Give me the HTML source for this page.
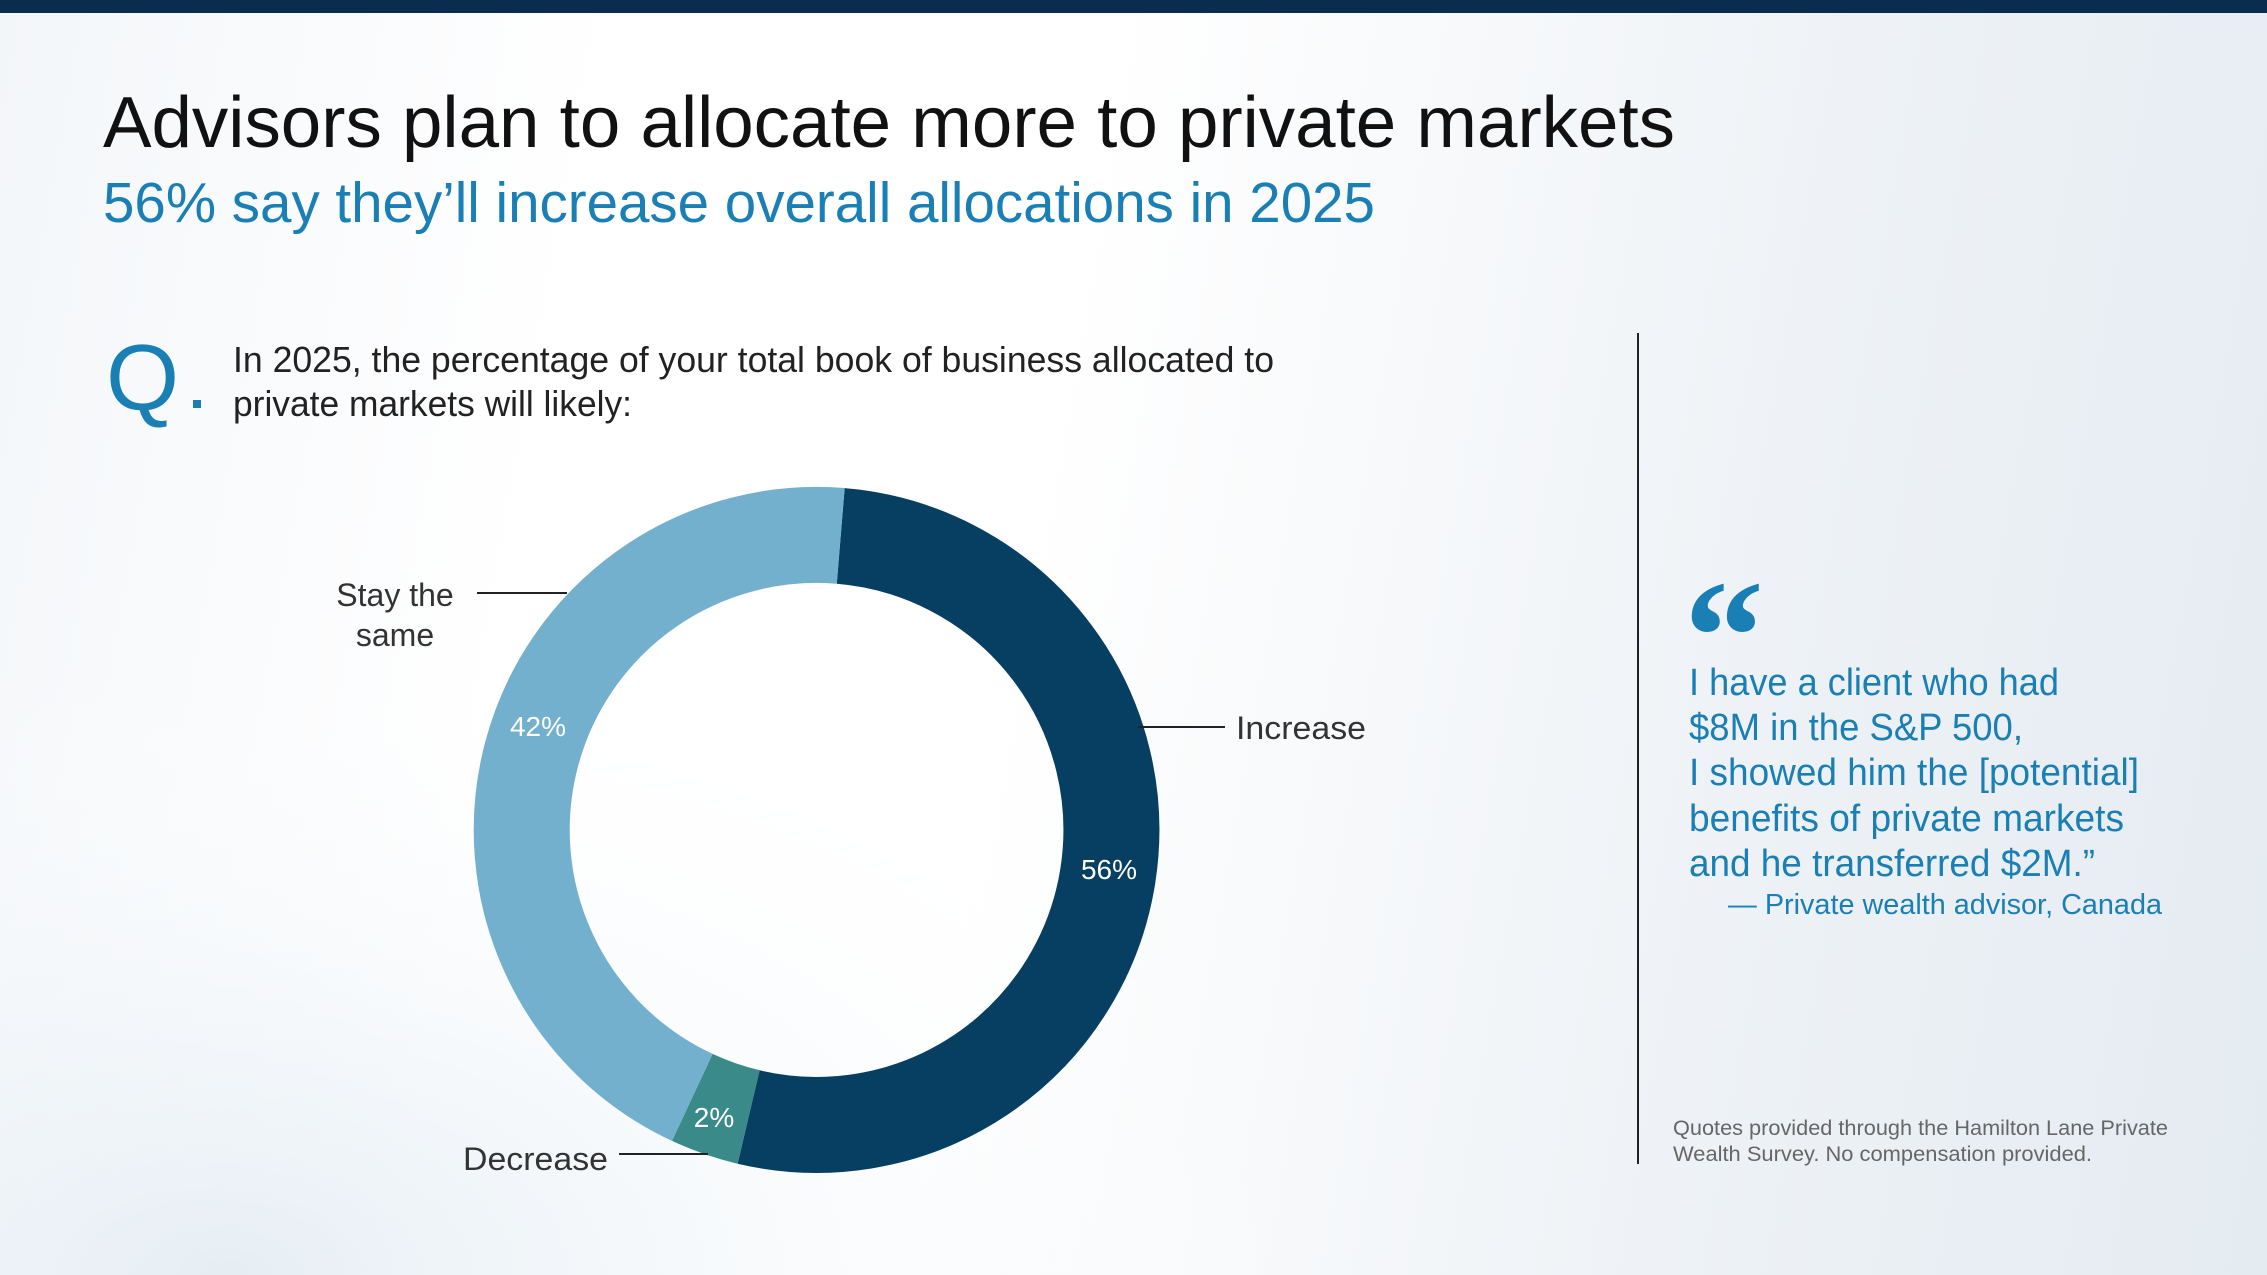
<!DOCTYPE html>
<html><head><meta charset="utf-8"><style>
html,body{margin:0;padding:0;}
body{width:2267px;height:1275px;overflow:hidden;background:linear-gradient(100deg,#f3f6f9 0%,#ffffff 25%,#ffffff 45%,#eef2f6 75%,#e4ebf1 100%);font-family:"Liberation Sans",sans-serif;}
svg{position:absolute;left:0;top:0;}
</style></head><body>
<svg width="2267" height="1275" viewBox="0 0 2267 1275" xmlns="http://www.w3.org/2000/svg">
<defs>
<radialGradient id="g1" cx="0.1" cy="1" r="0.5">
<stop offset="0" stop-color="#e3ecf3" stop-opacity="0.9"/><stop offset="1" stop-color="#ffffff" stop-opacity="0"/>
</radialGradient>
</defs>
<rect x="0" y="0" width="2267" height="1275" fill="url(#g1)"/>
<rect x="0" y="0" width="2267" height="13" fill="#0a2d4f"/>
<g font-family="Liberation Sans, sans-serif">
<text x="103" y="147" font-size="72" fill="#111" textLength="1572" lengthAdjust="spacingAndGlyphs">Advisors plan to allocate more to private markets</text>
<text x="103" y="222" font-size="56.5" fill="#1a7fb5">56% say they’ll increase overall allocations in 2025</text>
<text x="106" y="410" font-size="94" fill="#1a7fb5">Q</text>
<rect x="193" y="400" width="8" height="8" fill="#1a7fb5"/>
<text x="233" y="372" font-size="36" fill="#222" textLength="1041" lengthAdjust="spacingAndGlyphs">In 2025, the percentage of your total book of business allocated to</text>
<text x="233" y="416" font-size="36" fill="#222" textLength="399" lengthAdjust="spacingAndGlyphs">private markets will likely:</text>

<g fill="none" stroke-width="96">
<path d="M840.7 535.9 A295 295 0 1 1 748.6 1117.0" stroke="#073f62"/>
<path d="M748.6 1117.0 A295 295 0 0 1 692.3 1097.4" stroke="#3a8a8a"/>
<path d="M692.3 1097.4 A295 295 0 0 1 840.7 535.9" stroke="#72b0cd"/>
</g>
<g fill="#fff" font-size="28" text-anchor="middle">
<text x="538" y="736">42%</text>
<text x="1109" y="879">56%</text>
<text x="714" y="1127">2%</text>
</g>
<g stroke="#222" stroke-width="2">
<line x1="477" y1="593" x2="567" y2="593"/>
<line x1="1138" y1="727" x2="1225" y2="727"/>
<line x1="619" y1="1154" x2="708" y2="1154"/>
</g>
<g font-size="32" fill="#333">
<text x="395" y="606" text-anchor="middle">Stay the</text>
<text x="395" y="646" text-anchor="middle">same</text>
<text x="1236" y="739" textLength="130" lengthAdjust="spacingAndGlyphs">Increase</text>
<text x="463" y="1170" textLength="145" lengthAdjust="spacingAndGlyphs">Decrease</text>
</g>

<line x1="1638" y1="333" x2="1638" y2="1164" stroke="#222" stroke-width="2"/>
<text x="1684" y="690" font-size="160" font-weight="bold" fill="#1a7fb5" font-family="Liberation Serif, serif">“</text>
<g font-size="38" fill="#1a7fb5">
<text x="1689" y="695" textLength="370" lengthAdjust="spacingAndGlyphs">I have a client who had</text>
<text x="1689" y="740" textLength="334" lengthAdjust="spacingAndGlyphs">$8M in the S&amp;P 500,</text>
<text x="1689" y="785" textLength="450" lengthAdjust="spacingAndGlyphs">I showed him the [potential]</text>
<text x="1689" y="831" textLength="435" lengthAdjust="spacingAndGlyphs">benefits of private markets</text>
<text x="1689" y="876" textLength="406" lengthAdjust="spacingAndGlyphs">and he transferred $2M.”</text>
</g>
<text x="1728" y="914" font-size="29" fill="#1a7fb5" textLength="434" lengthAdjust="spacingAndGlyphs">— Private wealth advisor, Canada</text>
<g font-size="21" fill="#666">
<text x="1673" y="1135" textLength="495" lengthAdjust="spacingAndGlyphs">Quotes provided through the Hamilton Lane Private</text>
<text x="1673" y="1161" textLength="419" lengthAdjust="spacingAndGlyphs">Wealth Survey. No compensation provided.</text>
</g>
</g>
</svg>
</body></html>
